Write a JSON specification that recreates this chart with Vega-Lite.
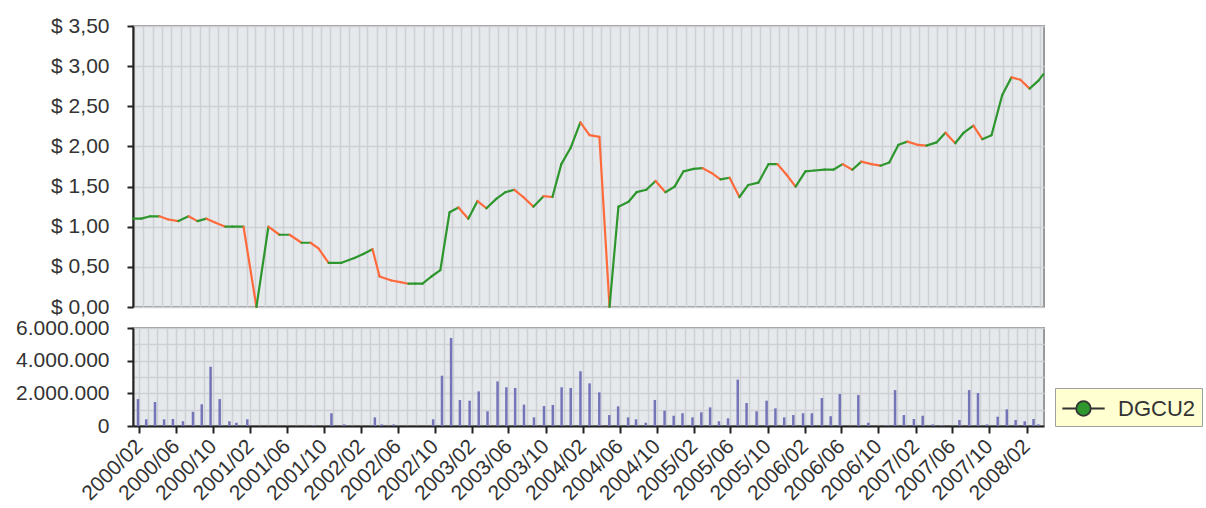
{
  "$schema": "https://vega.github.io/schema/vega-lite/v6.json",
  "background": "white",
  "padding": {"left": 14, "top": 14, "right": 0, "bottom": 0},
  "bounds": "flush",
  "spacing": 21,
  "config": {
    "locale": {"number": {"decimal": ",", "thousands": ".", "grouping": [3], "currency": ["$ ", ""]}},
    "font": "Liberation Sans",
    "view": {"fill": "#e6e9ec", "stroke": "#9a9a9a", "strokeWidth": 2},
    "axis": {
      "labelFont": "Liberation Sans",
      "labelFontSize": 21,
      "labelColor": "#333333",
      "domainColor": "#222222",
      "domainWidth": 2,
      "tickColor": "#222222",
      "tickWidth": 2,
      "tickSize": 6,
      "gridColor": "#cdd0d4",
      "gridWidth": 1.5,
      "gridOpacity": 1,
      "title": null
    }
  },
  "datasets": {
    "d": [
      {"date": "2000-01-28", "price": 1.10, "volume": 1650000},
      {"date": "2000-02-24", "price": 1.10, "volume": 410000},
      {"date": "2000-03-24", "price": 1.13, "volume": 1470000},
      {"date": "2000-04-23", "price": 1.13, "volume": 410000},
      {"date": "2000-05-22", "price": 1.09, "volume": 430000},
      {"date": "2000-06-24", "price": 1.07, "volume": 290000},
      {"date": "2000-07-27", "price": 1.13, "volume": 870000},
      {"date": "2000-08-25", "price": 1.07, "volume": 1330000},
      {"date": "2000-09-23", "price": 1.10, "volume": 3630000},
      {"date": "2000-10-23", "price": 1.05, "volume": 1650000},
      {"date": "2000-11-24", "price": 1.00, "volume": 290000},
      {"date": "2000-12-17", "price": 1.00, "volume": 200000},
      {"date": "2001-01-22", "price": 1.00, "volume": 410000},
      {"date": "2001-03-05", "price": 0.00, "volume": 0},
      {"date": "2001-04-13", "price": 1.00, "volume": 0},
      {"date": "2001-05-19", "price": 0.90, "volume": 0},
      {"date": "2001-06-21", "price": 0.90, "volume": 0},
      {"date": "2001-07-30", "price": 0.80, "volume": 0},
      {"date": "2001-08-28", "price": 0.80, "volume": 50000},
      {"date": "2001-09-23", "price": 0.73, "volume": 0},
      {"date": "2001-10-26", "price": 0.55, "volume": 780000},
      {"date": "2001-12-07", "price": 0.55, "volume": 100000},
      {"date": "2002-01-18", "price": 0.61, "volume": 0},
      {"date": "2002-02-16", "price": 0.66, "volume": 0},
      {"date": "2002-03-18", "price": 0.72, "volume": 530000},
      {"date": "2002-04-10", "price": 0.38, "volume": 100000},
      {"date": "2002-05-19", "price": 0.33, "volume": 100000},
      {"date": "2002-06-17", "price": 0.31, "volume": 0},
      {"date": "2002-07-13", "price": 0.29, "volume": 0},
      {"date": "2002-08-05", "price": 0.29, "volume": 0},
      {"date": "2002-08-28", "price": 0.29, "volume": 0},
      {"date": "2002-09-26", "price": 0.38, "volume": 410000},
      {"date": "2002-10-25", "price": 0.46, "volume": 3080000},
      {"date": "2002-11-24", "price": 1.18, "volume": 5390000},
      {"date": "2002-12-23", "price": 1.24, "volume": 1590000},
      {"date": "2003-01-24", "price": 1.10, "volume": 1550000},
      {"date": "2003-02-23", "price": 1.32, "volume": 2120000},
      {"date": "2003-03-24", "price": 1.23, "volume": 900000},
      {"date": "2003-04-26", "price": 1.35, "volume": 2730000},
      {"date": "2003-05-25", "price": 1.43, "volume": 2370000},
      {"date": "2003-06-23", "price": 1.46, "volume": 2330000},
      {"date": "2003-07-22", "price": 1.37, "volume": 1310000},
      {"date": "2003-08-24", "price": 1.25, "volume": 530000},
      {"date": "2003-09-26", "price": 1.38, "volume": 1220000},
      {"date": "2003-10-25", "price": 1.37, "volume": 1290000},
      {"date": "2003-11-23", "price": 1.78, "volume": 2370000},
      {"date": "2003-12-23", "price": 1.98, "volume": 2330000},
      {"date": "2004-01-24", "price": 2.30, "volume": 3350000},
      {"date": "2004-02-23", "price": 2.14, "volume": 2610000},
      {"date": "2004-03-26", "price": 2.12, "volume": 2060000},
      {"date": "2004-04-28", "price": 0.00, "volume": 670000},
      {"date": "2004-05-27", "price": 1.25, "volume": 1200000},
      {"date": "2004-06-29", "price": 1.31, "volume": 530000},
      {"date": "2004-07-25", "price": 1.43, "volume": 410000},
      {"date": "2004-08-26", "price": 1.46, "volume": 200000},
      {"date": "2004-09-25", "price": 1.57, "volume": 1590000},
      {"date": "2004-10-27", "price": 1.43, "volume": 940000},
      {"date": "2004-11-26", "price": 1.50, "volume": 630000},
      {"date": "2004-12-25", "price": 1.69, "volume": 780000},
      {"date": "2005-01-27", "price": 1.72, "volume": 530000},
      {"date": "2005-02-25", "price": 1.73, "volume": 840000},
      {"date": "2005-03-26", "price": 1.67, "volume": 1140000},
      {"date": "2005-04-24", "price": 1.59, "volume": 290000},
      {"date": "2005-05-24", "price": 1.61, "volume": 470000},
      {"date": "2005-06-25", "price": 1.37, "volume": 2840000},
      {"date": "2005-07-24", "price": 1.52, "volume": 1410000},
      {"date": "2005-08-26", "price": 1.55, "volume": 900000},
      {"date": "2005-09-28", "price": 1.78, "volume": 1550000},
      {"date": "2005-10-27", "price": 1.78, "volume": 1080000},
      {"date": "2005-11-25", "price": 1.65, "volume": 530000},
      {"date": "2005-12-25", "price": 1.50, "volume": 670000},
      {"date": "2006-01-26", "price": 1.69, "volume": 780000},
      {"date": "2006-02-24", "price": 1.70, "volume": 780000},
      {"date": "2006-03-29", "price": 1.71, "volume": 1710000},
      {"date": "2006-04-27", "price": 1.71, "volume": 600000},
      {"date": "2006-05-27", "price": 1.78, "volume": 1960000},
      {"date": "2006-06-28", "price": 1.71, "volume": 0},
      {"date": "2006-07-27", "price": 1.81, "volume": 1900000},
      {"date": "2006-08-29", "price": 1.78, "volume": 200000},
      {"date": "2006-09-27", "price": 1.76, "volume": 0},
      {"date": "2006-10-26", "price": 1.80, "volume": 50000},
      {"date": "2006-11-25", "price": 2.02, "volume": 2200000},
      {"date": "2006-12-24", "price": 2.06, "volume": 670000},
      {"date": "2007-01-26", "price": 2.02, "volume": 430000},
      {"date": "2007-02-24", "price": 2.01, "volume": 630000},
      {"date": "2007-03-29", "price": 2.05, "volume": 100000},
      {"date": "2007-04-27", "price": 2.17, "volume": 50000},
      {"date": "2007-05-29", "price": 2.04, "volume": 0},
      {"date": "2007-06-25", "price": 2.17, "volume": 370000},
      {"date": "2007-07-27", "price": 2.26, "volume": 2200000},
      {"date": "2007-08-25", "price": 2.09, "volume": 2020000},
      {"date": "2007-09-24", "price": 2.14, "volume": 100000},
      {"date": "2007-10-29", "price": 2.64, "volume": 570000},
      {"date": "2007-11-28", "price": 2.86, "volume": 1020000},
      {"date": "2007-12-27", "price": 2.83, "volume": 370000},
      {"date": "2008-01-26", "price": 2.72, "volume": 290000},
      {"date": "2008-02-24", "price": 2.82, "volume": 430000},
      {"date": "2008-03-11", "price": 2.90, "volume": 100000}
    ]
  },
  "vconcat": [
    {
      "width": 911,
      "height": 281,
      "data": {"name": "d"},
      "transform": [
        {"window": [{"op": "lead", "field": "date", "as": "date2"}, {"op": "lead", "field": "price", "as": "price2"}], "sort": [{"field": "date"}]},
        {"filter": "datum.price2 != null"}
      ],
      "mark": {"type": "rule", "strokeWidth": 2.2, "strokeCap": "round"},
      "encoding": {
        "x": {
          "field": "date", "type": "temporal",
          "scale": {"domain": [{"year": 2000, "month": 1, "date": 28}, {"year": 2008, "month": 3, "date": 13}]},
          "axis": {"tickCount": {"interval": "month", "step": 1}, "labels": false, "ticks": false, "domain": false, "grid": true}
        },
        "x2": {"field": "date2"},
        "y": {
          "field": "price", "type": "quantitative",
          "scale": {"domain": [0, 3.5], "nice": false, "zero": true},
          "axis": {"values": [0, 0.5, 1, 1.5, 2, 2.5, 3, 3.5], "format": "$,.2f", "grid": true, "labelPadding": 18, "labelOverlap": false}
        },
        "y2": {"field": "price2"},
        "color": {"condition": {"test": "datum.price2 < datum.price", "value": "#ff6a3c"}, "value": "#2d962d"}
      }
    },
    {
      "width": 911,
      "height": 98,
      "data": {"name": "d"},
      "resolve": {"axis": {"x": "independent", "y": "independent"}},
      "layer": [
        {
          "mark": {"type": "bar", "width": 2.5, "color": "#7474b8"},
          "encoding": {
            "x": {
              "field": "date", "type": "temporal",
              "scale": {"domain": [{"year": 2000, "month": 1, "date": 28}, {"year": 2008, "month": 3, "date": 13}]},
              "axis": {
                "tickCount": {"interval": "month", "step": 1},
                "grid": true,
                "labelOverlap": false,
                "labelFontSize": 21,
                "labelExpr": "month(datum.value) % 4 == 1 ? timeFormat(datum.value, '%Y/%m') : ''",
                "tickSize": {"condition": {"test": "month(datum.value) % 4 != 1", "value": 0}, "value": 7},
                "labelAngle": -45,
                "labelAlign": "right",
                "labelBaseline": "middle",
                "labelPadding": 10
              }
            },
            "y": {
              "field": "volume", "type": "quantitative",
              "scale": {"domain": [0, 6000000], "nice": false},
              "axis": {
                "values": [0, 1000000, 2000000, 3000000, 4000000, 5000000, 6000000],
                "labelOverlap": false,
                "labelExpr": "abs(datum.value / 2000000 - round(datum.value / 2000000)) < 0.01 ? format(datum.value, ',') : ''",
                "tickSize": {"condition": {"test": "abs(datum.value / 2000000 - round(datum.value / 2000000)) >= 0.01", "value": 0}, "value": 6},
                "labelPadding": 18,
                "grid": true
              }
            }
          }
        },
        {
          "mark": {"type": "point", "filled": true, "opacity": 0},
          "encoding": {
            "x": {"field": "date", "type": "temporal", "axis": null},
            "y": {"field": "volume", "type": "quantitative", "axis": null},
            "color": {
              "datum": "DGCU2",
              "scale": {"range": ["#2d962d"]},
              "legend": {
                "title": null,
                "orient": "none",
                "legendX": 922,
                "legendY": 362,
                "fillColor": "#ffffd2",
                "strokeColor": "#a0a0a0",
                "padding": 6,
                "labelFont": "Liberation Sans",
                "labelFontSize": 22,
                "labelColor": "#333333",
                "labelOffset": 20,
                "symbolOffset": 8,
                "symbolType": "M-1.6,0H-0.55M0.55,0H1.6M0.55,0A0.55,0.55 0 1,1 -0.55,0A0.55,0.55 0 1,1 0.55,0Z",
                "symbolSize": 700,
                "symbolStrokeColor": "#333333",
                "symbolStrokeWidth": 1.8,
                "symbolOpacity": 1,
                "encode": {"symbols": {"update": {"opacity": {"value": 1}, "fill": {"value": "#2d962d"}, "stroke": {"value": "#333333"}, "strokeWidth": {"value": 1.8}}}}
              }
            }
          }
        }
      ]
    }
  ]
}
